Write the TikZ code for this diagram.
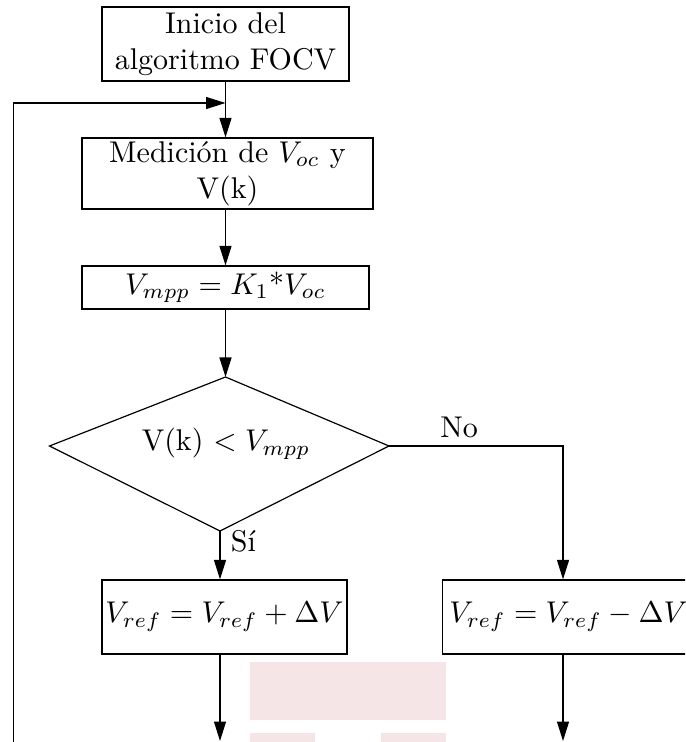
\documentclass[tikz,border=0pt]{standalone}
\usepackage{fontspec}
\usetikzlibrary{arrows.meta}
\definecolor{faintpink}{RGB}{246,229,231}
\tikzset{
  procbox/.style={draw, rectangle, align=center, inner sep=0pt, line width=0.4pt},
  flow/.style={line width=0.4pt, -{Triangle[length=6.5pt,width=4pt]}},
  plain/.style={line width=0.4pt},
  lbl/.style={inner sep=0pt}
}
\begin{document}
\begin{tikzpicture}[x=0.3333pt,y=-0.3333pt]
\clip (0,0) rectangle (685,742);
\useasboundingbox (0,0) rectangle (685,742);

% background blocks
\fill[faintpink] (250,662) rectangle (446,720);
\fill[faintpink] (250,733) rectangle (315,745);
\fill[faintpink] (381,733) rectangle (446,745);

% process boxes
\node[procbox, minimum width=82.33pt, minimum height=24.67pt] (start) at (225.5,44)
  {Inicio del\\algoritmo FOCV};
\node[procbox, minimum width=97pt, minimum height=23.67pt] (meas) at (227.5,173.5)
  {Medición de $V_{oc}$ y\\V(k)};
\node[procbox, minimum width=95.67pt, minimum height=14.33pt] (vmpp) at (225.5,287.5)
  {$V_{mpp}=K_1$*$V_{oc}$};
\node[procbox, minimum width=81.67pt, minimum height=24.67pt] (inc) at (224.5,617)
  {$V_{ref}=V_{ref}+\Delta V$};
\node[procbox, anchor=west, minimum width=84pt, minimum height=24.67pt] (dec) at (442,617)
  {$V_{ref}=V_{ref}-\Delta V$};

% decision diamond
\coordinate (dt) at (225.5,377);
\coordinate (dr) at (389,446);
\coordinate (db) at (220,531);
\coordinate (dl) at (49.5,446);
\draw[plain] (dt) -- (dr) -- (db) -- (dl) -- cycle;
\node[lbl] (cond) at (226,444) {V(k) $<V_{mpp}$};

% auxiliary points
\coordinate (join) at (225.5,103);
\coordinate (loopTop) at (13.5,103);
\coordinate (loopBot) at (13.5,746);
\coordinate (noTurn) at (563,446);
\coordinate (endL) at (220,741);
\coordinate (endR) at (563,741);

% connectors
\draw[plain] (start.south) -- (join);
\draw[flow] (join) -- (join |- meas.north);
\draw[flow] (loopBot) -- (loopTop) -- (join);
\draw[flow] (meas.south -| vmpp.north) -- (vmpp.north);
\draw[flow] (vmpp.south) -- (dt);
\draw[flow] (db) -- (db |- inc.north);
\draw[flow] (dr) -- (noTurn) -- (noTurn |- dec.north);
\draw[flow] (db |- inc.south) -- (endL);
\draw[flow] (noTurn |- dec.south) -- (endR);

% branch labels
\node[lbl] (no) at (459,427) {No};
\node[lbl] (si) at (243.5,541) {Sí};
\end{tikzpicture}
\end{document}
